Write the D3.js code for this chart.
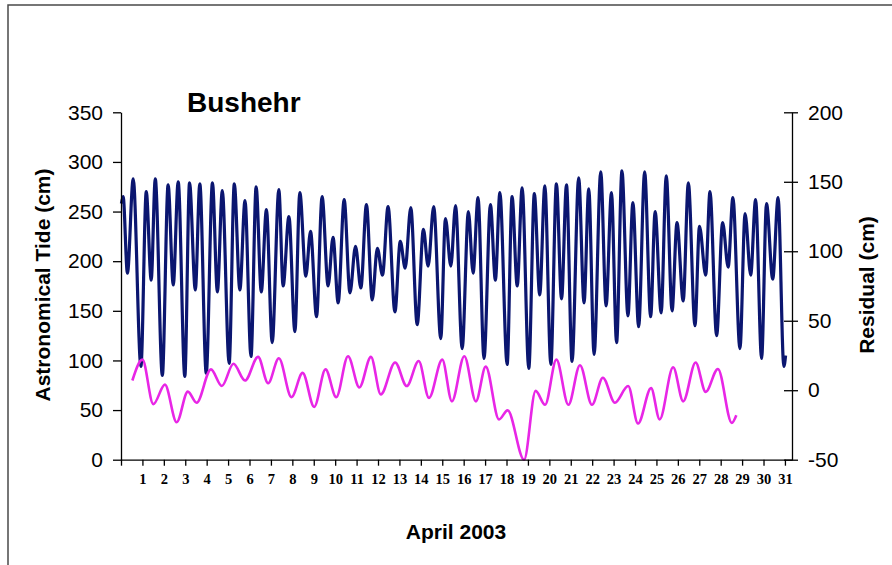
<!DOCTYPE html>
<html>
<head>
<meta charset="utf-8">
<script src="https://cdn.jsdelivr.net/npm/d3@7"></script>
<style>
  html, body { margin: 0; padding: 0; background: #fff; }
  svg { display: block; }
  .sans { font-family: Arial, "Liberation Sans", sans-serif; }
  .serif { font-family: "Times New Roman", "Liberation Serif", serif; }
</style>
</head>
<body>
<svg id="chart" width="892" height="565"></svg>
<script>
// Astronomical tide at Bushehr, April 2003: successive high and low waters (day of month, cm)
const tideDay = [0.02, 0.1, 0.3, 0.57, 0.93, 1.18, 1.41, 1.6, 1.93, 2.2, 2.44, 2.67, 2.98, 3.2, 3.47, 3.68, 3.98, 4.27, 4.5, 4.73,
  5.05, 5.29, 5.55, 5.79, 6.07, 6.31, 6.55, 6.79, 7.06, 7.37, 7.57, 7.84, 8.12, 8.35, 8.63, 8.85, 9.13, 9.39, 9.67, 9.9,
  10.14, 10.42, 10.69, 10.95, 11.2, 11.46, 11.73, 11.97, 12.21, 12.47, 12.79, 13.04, 13.27, 13.53, 13.83, 14.12, 14.34, 14.6, 14.93, 15.15,
  15.4, 15.62, 15.93, 16.22, 16.44, 16.67, 16.95, 17.25, 17.48, 17.69, 18.03, 18.26, 18.5, 18.73, 19.04, 19.3, 19.55, 19.79, 20.07, 20.33,
  20.57, 20.8, 21.06, 21.37, 21.62, 21.84, 22.09, 22.4, 22.65, 22.9, 23.14, 23.39, 23.67, 23.9, 24.17, 24.45, 24.73, 24.94, 25.22, 25.46,
  25.73, 25.96, 26.25, 26.49, 26.8, 27.01, 27.3, 27.5, 27.81, 28.09, 28.35, 28.57, 28.9, 29.14, 29.4, 29.63, 29.91, 30.14, 30.43, 30.68,
  30.95, 31.03];
const tideCm = [258, 265, 188, 283, 94, 270, 181, 283, 85, 277, 176, 280, 84, 279, 171, 278, 87, 279, 169, 271,
  97, 278, 171, 261, 104, 275, 169, 252, 118, 272, 175, 245, 129, 269, 185, 230, 144, 265, 175, 224,
  158, 262, 168, 215, 173, 257, 161, 213, 186, 255, 149, 220, 193, 254, 136, 232, 195, 255, 122, 243,
  195, 256, 112, 250, 188, 264, 102, 257, 181, 269, 96, 265, 175, 274, 92, 268, 166, 276, 96, 278,
  162, 277, 99, 284, 158, 273, 106, 290, 155, 269, 118, 291, 145, 259, 134, 290, 144, 250, 148, 286,
  150, 239, 160, 279, 135, 235, 186, 270, 125, 239, 194, 264, 112, 248, 186, 262, 102, 258, 182, 264,
  94, 105];

// Residual (observed minus astronomical), cm
const residDay = [0.53, 1.0, 1.51, 2.05, 2.6, 3.12, 3.53, 4.2, 4.71, 5.25, 5.79, 6.4, 6.87, 7.37, 7.96, 8.48, 9.02, 9.55, 10.05, 10.6,
  11.13, 11.67, 12.13, 12.8, 13.34, 13.9, 14.38, 15.0, 15.45, 16.03, 16.57, 17.03, 17.65, 18.05, 18.82, 19.36, 19.8, 20.33, 20.89, 21.43,
  21.99, 22.5, 23.06, 23.68, 24.14, 24.75, 25.15, 25.78, 26.25, 26.83, 27.3, 27.87, 28.52, 28.73];
const residCm = [7, 22, -10, 4, -23, -1, -9, 15, 3, 19, 7, 24, 5, 23, -5, 12.5, -12, 15, -5, 24.5,
  2, 24, -3, 20, 3, 21, -5.5, 22, -8, 24.5, -8, 17, -21, -14.5, -50, -0.5, -10.5, 22, -10.5, 18,
  -10.5, 9, -9, 3, -24, 1.5, -21, 16.5, -8, 20, -1.2, 15.3, -23.5, -18];

const dayLabels = ["", "1", "2", "3", "4", "5", "6", "7", "8", "9", "10", "11", "12", "13", "14", "15", "16",
  "17", "18", "19", "20", "21", "22", "23", "24", "25", "26", "27", "28", "29", "30", "31"];
const tideTicks = [0, 50, 100, 150, 200, 250, 300, 350];
const residTicks = [-50, 0, 50, 100, 150, 200];

const svg = d3.select("#chart");

// page frame
svg.append("rect")
  .attr("x", 8).attr("y", 5).attr("width", 900).attr("height", 600)
  .attr("fill", "none").attr("stroke", "#4a4a4a").attr("stroke-width", 1.5);

const plotL = 121, plotR = 792, plotT = 112.3, plotB = 459.7;

const x = d3.scaleLinear().domain([0, 31.33]).range([plotL, plotR]);
const yT = d3.scaleLinear().domain([0, 350]).range([plotB, plotT]);
const yR = d3.scaleLinear().domain([-50, 200]).range([plotB, plotT]);

const tide = tideDay.map((d, i) => [d, tideCm[i]]);
const resid = residDay.map((d, i) => [d, residCm[i]]);

// series
svg.append("path")
  .datum(tide)
  .attr("fill", "none")
  .attr("stroke", "#0b1670")
  .attr("stroke-width", 3.2)
  .attr("stroke-linejoin", "round")
  .attr("d", d3.line().x(d => x(d[0])).y(d => yT(d[1])).curve(d3.curveMonotoneX));

svg.append("path")
  .datum(resid)
  .attr("fill", "none")
  .attr("stroke", "#e826e6")
  .attr("stroke-width", 2.6)
  .attr("stroke-linejoin", "round")
  .attr("d", d3.line().x(d => x(d[0])).y(d => yR(d[1])).curve(d3.curveMonotoneX));

// left axis
const gL = svg.append("g").attr("transform", `translate(${plotL},0)`)
  .call(d3.axisLeft(yT).tickValues(tideTicks).tickSize(8).tickPadding(10).tickSizeOuter(0));
gL.selectAll("text").attr("class", "sans").attr("font-size", 21).attr("fill", "#000");

// right axis, ticks crossing the line; plain hyphen for negatives
const gR = svg.append("g").attr("transform", `translate(${plotR},0)`)
  .call(d3.axisRight(yR).tickValues(residTicks).tickFormat(d => String(d))
    .tickSize(6).tickPadding(10).tickSizeOuter(0));
gR.selectAll(".tick line").attr("x1", -8).attr("x2", 6);
gR.selectAll("text").attr("class", "sans").attr("font-size", 21).attr("fill", "#000");

// bottom axis
const gB = svg.append("g").attr("transform", `translate(0,${plotB})`)
  .call(d3.axisBottom(x).tickValues(d3.range(dayLabels.length)).tickFormat(i => dayLabels[i])
    .tickSize(6).tickPadding(8).tickSizeOuter(0));
gB.selectAll("text").attr("class", "serif").attr("font-size", 14.5).attr("font-weight", "bold").attr("fill", "#000");

[gL, gR, gB].forEach(g => {
  g.selectAll("path.domain").attr("stroke", "#000").attr("stroke-width", 1.3);
  g.selectAll(".tick line").attr("stroke", "#000").attr("stroke-width", 1.3);
});

// titles
svg.append("text").attr("class", "sans")
  .attr("x", 187).attr("y", 112)
  .attr("font-size", 28).attr("font-weight", "bold")
  .text("Bushehr");

svg.append("text").attr("class", "sans")
  .attr("transform", `translate(50,285) rotate(-90)`)
  .attr("text-anchor", "middle")
  .attr("font-size", 21).attr("font-weight", "bold")
  .text("Astronomical Tide (cm)");

svg.append("text").attr("class", "sans")
  .attr("transform", `translate(874,285) rotate(-90)`)
  .attr("text-anchor", "middle")
  .attr("font-size", 21).attr("font-weight", "bold")
  .text("Residual (cm)");

svg.append("text").attr("class", "sans")
  .attr("x", 456).attr("y", 539)
  .attr("text-anchor", "middle")
  .attr("font-size", 21).attr("font-weight", "bold")
  .text("April 2003");
</script>
</body>
</html>
